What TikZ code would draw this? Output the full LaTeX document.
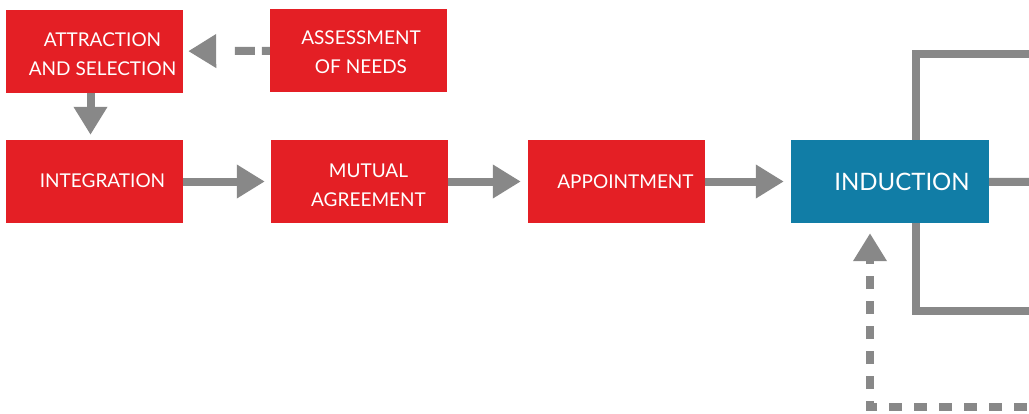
\documentclass[tikz,border=0pt]{standalone}
\usepackage{fontspec}
\setmainfont{Lato}
\usepackage{tikz}
\usetikzlibrary{arrows.meta}
\definecolor{stagered}{RGB}{228, 31, 37}
\definecolor{stageblue}{RGB}{17, 125, 166}
\definecolor{flowgray}{RGB}{136, 136, 136}
\newcommand{\stagetext}[3][16pt]{\raisebox{-#2}[\height][\depth]{\begin{tabular}{@{\hspace{#1}}c@{}}#3\end{tabular}}}

\begin{document}
\begin{tikzpicture}[x=1pt, y=-1pt,
    stagebox/.style={fill=stagered, text=white, minimum width=177pt, minimum height=83pt, inner sep=0pt, font=\fontsize{19}{29}\selectfont},
    flow/.style={draw=flowgray, line width=8pt, -{Triangle[length=28pt, width=32pt]}, shorten >=7pt},
    frame/.style={draw=flowgray, line width=8pt, line join=miter}]
                    \useasboundingbox (0,0) rectangle (1029,413);

                    \coordinate (topend) at (1040,54);
                    \coordinate (midend) at (1040,182);
                    \coordinate (botend) at (1040,311);
                    \coordinate (loopend) at (1040,407);
                    \draw[frame] (topend) -- (916,54) -- (916,311) -- (botend);

                    \node[stagebox] (attract) at (94.5,51.5) {\stagetext{4pt}{ATTRACTION\\AND SELECTION}};
                    \node[stagebox] (assess) at (358.5,50.5) {\stagetext[5pt]{3pt}{ASSESSMENT\\OF NEEDS}};
                    \node[stagebox] (integ) at (94.5,181.5) {\stagetext{0pt}{INTEGRATION}};
                    \node[stagebox] (mutual) at (359.5,181.5) {\stagetext[18pt]{5pt}{MUTUAL\\AGREEMENT}};
                    \node[stagebox] (appoint) at (616.5,181.5) {\stagetext[18pt]{1pt}{APPOINTMENT}};
                    \node[stagebox, fill=stageblue, minimum width=198pt, font=\fontsize{24}{30}\selectfont] (induct) at (890,181.5) {\stagetext[24pt]{3pt}{INDUCTION}};

                    \draw[flow, dash pattern=on 8pt off 7pt on 20pt off 40pt, shorten >=5pt] (assess) -- (attract);
                    \draw[flow, shorten >=5pt] ([xshift=-4pt]attract.south) -- ([xshift=-4pt]integ.north);
                    \draw[flow, shorten >=6pt] (integ) -- (mutual);
                    \draw[flow] (mutual) -- (appoint);
                    \draw[flow] (appoint) -- (induct);
                    \draw[frame] (induct) -- (midend);
                    \draw[flow, dash pattern=on 13pt off 12pt, dash phase=12pt, shorten >=10pt] (loopend) -| ([xshift=-20pt]induct.south);
                \end{tikzpicture}
\end{document}
